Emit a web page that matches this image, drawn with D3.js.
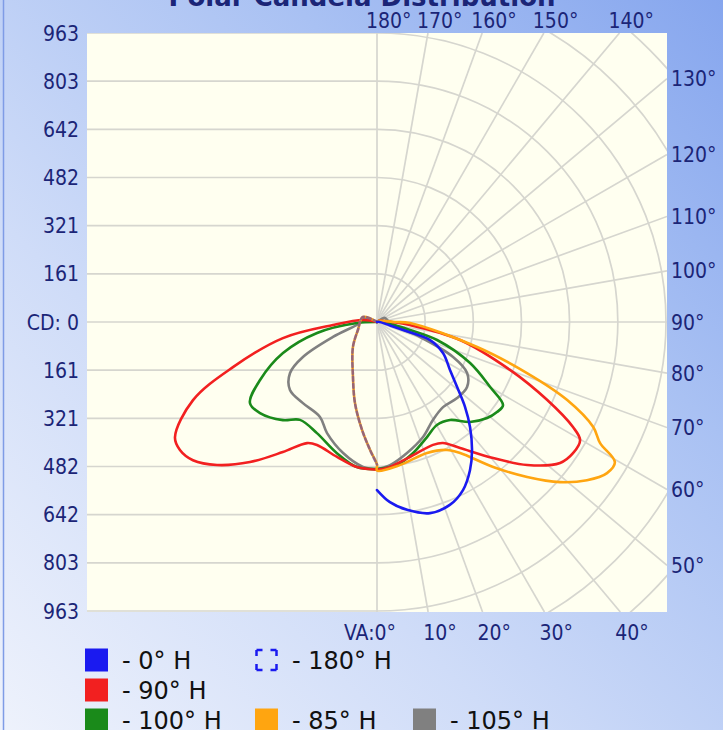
<!DOCTYPE html>
<html><head><meta charset="utf-8">
<script src="https://cdn.jsdelivr.net/npm/d3@7"></script>
<style>html,body{margin:0;padding:0;overflow:hidden}svg{display:block}</style>
</head><body>
<script>
// ---------- data ----------
const cdMax = 963;
const cdTickLabels = ["963","803","642","482","321","161","CD: 0","161","321","482","642","803","963"];
const cdStep = 160.5;
const angleTicks = [0,10,20,30,40,50,60,70,80,90,100,110,120,130,140,150,160,170,180];

// [vertical angle (deg), candela]; right half = plane, left half = opposite plane
const h0Right   = [[180,0],[100,5],[75,45],[72.9,91],[71.2,187],[64.8,243],[56.7,291],[50.9,344],[46,408],[41.5,468],[36.6,531],[32.1,583],[27.1,629],[21.7,656],[15.5,661],[9.1,634],[4.1,602],[0,560]];
const h180Left  = [[0,475],[3.1,427],[7.9,363],[15.2,280],[23.6,200],[43.8,116],[67.2,69],[109.7,50],[180,0]];
const h90Right  = [[180,0],[120,8],[90,50],[84.8,110],[77.8,283],[70.2,471],[65.4,623],[61.8,741],[59.8,783],[56.2,786],[52.4,770],[46.4,691],[40.5,596],[33.4,503],[28.6,459],[24.5,450],[13.7,463],[3.9,488],[0,492]];
const h270Left  = [[0,492],[7.9,488],[16.5,469],[26,456],[30,466],[35.9,535],[42.2,630],[48.2,715],[53.1,767],[57,783],[60.3,775],[67,666],[72.6,503],[80.3,318],[86.1,147],[98,47],[180,0]];
const h100Right = [[180,0],[120,5],[84,33],[76.4,113],[73.3,209],[66.2,339],[60.1,435],[56.6,503],[53.1,500],[48.9,487],[42.9,455],[36.7,407],[30.2,397],[23.5,418],[15.4,453],[8,481],[0,490]];
const h280Left  = [[0,490],[7.9,488],[17,457],[28.4,421],[38.2,415],[43.8,453],[52.1,494],[57.5,502],[63.6,435],[71.7,330],[79.6,203],[87,67],[180,0]];
const h85Right  = [[180,0],[120,8],[90,60],[88.3,110],[76,344],[71.2,528],[67.7,685],[64.1,801],[61.5,846],[59.5,920],[56.7,917],[53,876],[48.8,810],[44.1,719],[38.7,619],[32.4,517],[28.7,486],[20.9,467],[9.1,483],[0,495]];
const h265Left  = [[0,475],[3.1,427],[7.9,363],[15.2,280],[23.6,200],[43.8,116],[67.2,69],[109.7,50],[180,0]];
const h105Right = [[180,0],[117,30],[100,35],[75,79],[70.8,152],[65.3,279],[60.5,345],[54.2,370],[46.5,368],[37.8,359],[29.7,376],[21.8,413],[12.9,448],[5.2,479],[0,490]];
const h285Left  = [[0,490],[5.5,485],[14.5,451],[24.2,406],[31,369],[42.4,366],[52,368],[59.6,336],[64.7,273],[71.2,155],[86.6,57],[108,42],[180,0]];

const series = [
  {name:"- 105° H", color:"#808080", left:h285Left, right:h105Right},
  {name:"- 100° H", color:"#1a8a1a", left:h280Left, right:h100Right},
  {name:"- 90° H",  color:"#f22020", left:h270Left, right:h90Right},
  {name:"- 85° H",  color:"#ffa510", left:h265Left, right:h85Right},
  {name:"- 0° H",   color:"#1a1af0", left:null,     right:h0Right},
  {name:"- 180° H", color:"#1a1af0", left:h180Left, right:null, dashed:true}
];

// ---------- layout ----------
const W = 723, H = 730;
const cx = 377, cy = 322, R = 289;
const px0 = 87, px1 = 667, py0 = 33, py1 = 612;
const navy = "#1b2577";
const axisFont = "DejaVu Sans Condensed";

const svg = d3.select("body").append("svg").attr("width", W).attr("height", H);
const defs = svg.append("defs");
const grad = defs.append("linearGradient").attr("id","bg").attr("x1",0).attr("y1",1).attr("x2",1).attr("y2",0);
[[0,"#eef2fc"],[0.35,"#cfdcf8"],[0.7,"#a9c1f3"],[1,"#86a6ee"]].forEach(s=>grad.append("stop").attr("offset",s[0]).attr("stop-color",s[1]));
defs.append("clipPath").attr("id","plotClip").append("rect").attr("x",px0).attr("y",py0).attr("width",px1-px0).attr("height",py1-py0);

svg.append("rect").attr("width",W).attr("height",H).attr("fill","url(#bg)");
svg.append("line").attr("x1",3.5).attr("x2",3.5).attr("y1",0).attr("y2",H).attr("stroke","#7f9ce6").attr("stroke-width",1.5);

// title (cut off at top)
svg.append("text").attr("x",362).attr("y",6).attr("text-anchor","middle")
  .attr("font-family","DejaVu Sans").attr("font-weight","bold").attr("font-size",26).attr("fill",navy)
  .text("Polar Candela Distribution");

svg.append("rect").attr("x",px0).attr("y",py0).attr("width",px1-px0).attr("height",py1-py0).attr("fill","#fffff0");

const r = d3.scaleLinear().domain([0, cdMax]).range([0, R]);
const angRight = d3.scaleLinear().domain([0,180]).range([Math.PI, 0]);
const angLeft  = d3.scaleLinear().domain([0,180]).range([Math.PI, 2*Math.PI]);

const grid = svg.append("g").attr("clip-path","url(#plotClip)").attr("fill","none").attr("stroke","#d6d6cf").attr("stroke-width",1.7);
// left-half horizontal lines
d3.range(-6,7).forEach(i=>{
  const y = cy + r(i*cdStep);
  grid.append("line").attr("x1",px0).attr("x2",cx).attr("y1",y).attr("y2",y);
});
// right-half arcs
d3.range(1,9).forEach(i=>{
  const rr = r(i*cdStep);
  grid.append("path").attr("d",`M${cx},${cy-rr} A${rr},${rr} 0 0 1 ${cx},${cy+rr}`);
});
// spokes
function spokeEnd(g){
  const a = g*Math.PI/180, sx = Math.sin(a), sy = Math.cos(a);
  let t = Infinity, side = null;
  if (sx > 1e-9){ const tt = (px1-cx)/sx; if (tt < t){t = tt; side = "right";} }
  if (sy > 1e-9){ const tt = (py1-cy)/sy; if (tt < t){t = tt; side = "bottom";} }
  if (sy < -1e-9){ const tt = (py0-cy)/sy; if (tt < t){t = tt; side = "top";} }
  return {x: cx + t*sx, y: cy + t*sy, side};
}
angleTicks.forEach(g=>{
  const e = spokeEnd(g);
  grid.append("line").attr("x1",cx).attr("y1",cy).attr("x2",e.x).attr("y2",e.y);
});

// labels
const lab = svg.append("g").attr("font-family",axisFont).attr("font-size",21).attr("fill",navy);
cdTickLabels.forEach((t,i)=>{
  const y = cy + r((i-6)*cdStep);
  lab.append("text").attr("x",79).attr("y",y+7.5).attr("text-anchor","end").text(t);
});
angleTicks.forEach(g=>{
  const e = spokeEnd(g);
  const txt = (g===0 ? "VA:" : "") + g + "°";
  if (e.side === "right") lab.append("text").attr("x",671).attr("y",e.y+7.5).text(txt);
  else if (e.side === "top") lab.append("text").attr("x",e.x-11).attr("y",28).text(txt);
  else if (g===0) lab.append("text").attr("x",e.x+19).attr("y",640).attr("text-anchor","end").text(txt);
  else lab.append("text").attr("x",e.x-5).attr("y",640).text(txt);
});

// curves
const radial = d3.lineRadial().curve(d3.curveCatmullRom.alpha(0.5));
const curves = svg.append("g").attr("fill","none").attr("stroke-linejoin","round").attr("stroke-linecap","round");
series.forEach(s=>{
  let pts = [];
  if (s.left) pts = pts.concat(s.left.slice().sort((a,b)=>b[0]-a[0]).map(d=>[angLeft(d[0]), r(d[1])]));
  if (s.right) pts = pts.concat(s.right.slice().sort((a,b)=>a[0]-b[0]).map(d=>[angRight(d[0]), r(d[1])]));
  curves.append("path").attr("transform",`translate(${cx},${cy})`).attr("d",radial(pts))
    .attr("stroke",s.color).attr("stroke-width",2.6)
    .attr("stroke-opacity", s.dashed ? 0.45 : 1)
    .attr("stroke-dasharray", s.dashed ? "4,3" : null);
});

// legend
const legendItems = [
  {s:4, x:85,  row:0},
  {s:5, x:255, row:0},
  {s:2, x:85,  row:1},
  {s:1, x:85,  row:2},
  {s:3, x:255, row:2},
  {s:0, x:413, row:2}
];
const rowY = [660, 690, 720];
const leg = svg.append("g");
legendItems.forEach(it=>{
  const s = series[it.s], yc = rowY[it.row];
  if (s.dashed){
    leg.append("rect").attr("x",it.x+1.5).attr("y",yc-10).attr("width",20).attr("height",20)
      .attr("fill","none").attr("stroke",s.color).attr("stroke-width",2.5).attr("stroke-dasharray","6,8,6,0");
  } else {
    leg.append("rect").attr("x",it.x).attr("y",yc-11.5).attr("width",23).attr("height",23).attr("fill",s.color);
  }
  leg.append("text").attr("x",it.x+37).attr("y",yc+8.5).attr("font-family","DejaVu Sans").attr("font-size",24).attr("fill","#111").text(s.name);
});
</script>
</body></html>
